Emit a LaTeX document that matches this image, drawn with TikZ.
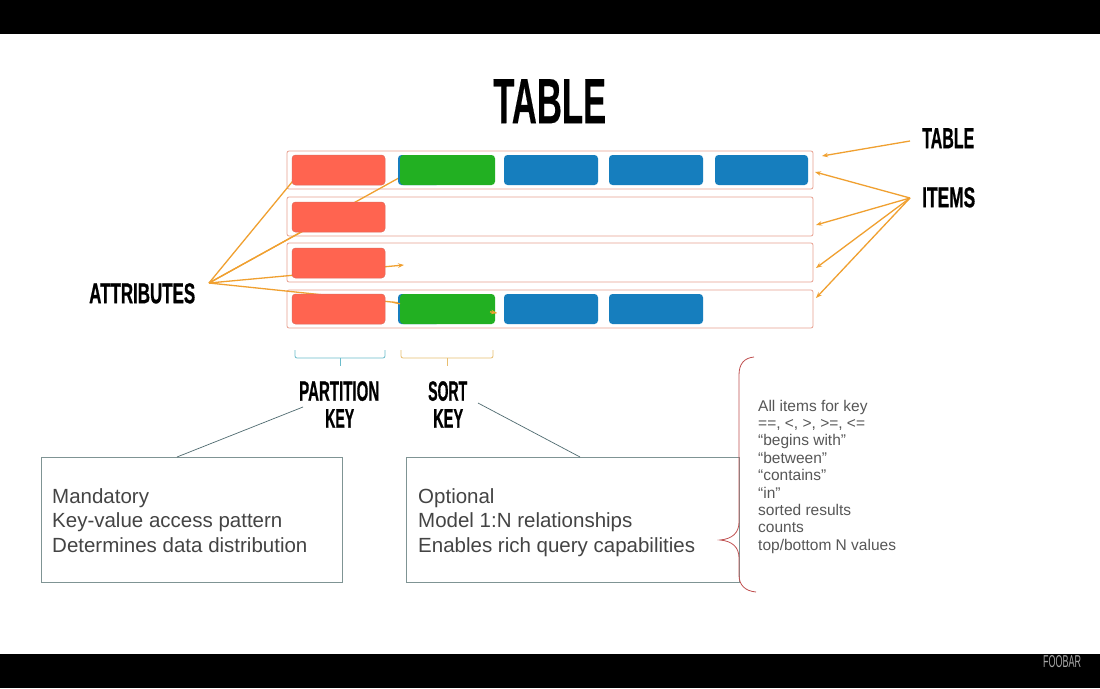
\documentclass[tikz,border=0pt]{standalone}
\usepackage{fontspec}
\usepackage{graphicx}
\setmainfont{Liberation Sans}
\newfontfamily\headfont[FakeBold=1.0]{Liberation Sans Bold}
\newfontfamily\titlefont[FakeBold=0.4]{Liberation Sans Bold}
\newfontfamily\thinfont{Liberation Sans}
\usetikzlibrary{arrows.meta}
\definecolor{cellred}{HTML}{FF6450}
\definecolor{cellgreen}{HTML}{22B022}
\definecolor{cellblue}{HTML}{167EBE}
\definecolor{rowc}{HTML}{E8A090}
\definecolor{arrowc}{HTML}{F0A030}
\definecolor{txt}{HTML}{444444}
\definecolor{boxc}{HTML}{7F9494}
\definecolor{conc}{HTML}{4F6B70}
\definecolor{pkc}{HTML}{6BBCCB}
\definecolor{skc}{HTML}{E8BE70}
\definecolor{bracec}{HTML}{C05050}
\newcommand\cond[3]{\resizebox{#1pt}{#2pt}{\headfont #3}}
\tikzset{
  rowbox/.style={draw=rowc, line width=0.8pt, rounded corners=2pt, inner sep=0pt, minimum width=526pt},
  cell/.style={rounded corners=3.5pt, inner sep=0pt, minimum height=30pt},
  redcell/.style={cell, fill=cellred, draw=cellred!75!gray, line width=0.5pt, minimum width=93pt},
  greencell/.style={cell, fill=cellgreen, minimum width=95pt},
  bluecell/.style={cell, fill=cellblue, minimum width=94pt},
  oarrow/.style={draw=arrowc, line width=1.3pt, -{Stealth[length=6pt,width=4.5pt]}},
  oline/.style={draw=arrowc, line width=1.3pt},
  lab/.style={inner sep=0pt, anchor=north west},
  infobox/.style={draw=boxc, line width=0.8pt, inner sep=0pt, anchor=north west},
  boxtext/.style={inner sep=0pt, anchor=base west, text=txt, font=\fontsize{20.5}{24.5}\selectfont},
  listtext/.style={inner sep=0pt, anchor=base west, text=txt!90!white, font=\fontsize{15.5}{17.4}\selectfont},
  con/.style={draw=conc, line width=0.7pt},
}
\begin{document}
\begin{tikzpicture}[x=1pt,y=-1pt]
\useasboundingbox (0,0) rectangle (1100,688);
\fill[white] (0,0) rectangle (1100,688);
\fill[black] (0,0) rectangle (1100,34);
\fill[black] (0,654) rectangle (1100,688);
\node[lab, text=gray!70!white] (foobar) at (1043,655) {\resizebox{38pt}{12pt}{\thinfont FOOBAR}};

% title
\node[lab] (title) at (493,79) {\resizebox{113pt}{44pt}{\titlefont TABLE}};

% row boxes
\node[rowbox, minimum height=38pt] (r1) at (550,170) {};
\node[rowbox, minimum height=39pt] (r2) at (550,216.5) {};
\node[rowbox, minimum height=39pt] (r3) at (550,262.5) {};
\node[rowbox, minimum height=38pt] (r4) at (550,309) {};

% labels
\node[lab] (ltable) at (922,128) {\cond{52}{20}{TABLE}};
\node[lab] (litems) at (922,187) {\cond{53}{20}{ITEMS}};
\node[lab] (lattr) at (89,283) {\cond{106}{20}{ATTRIBUTES}};
\node[lab] (lpart) at (299,381) {\cond{80}{19.5}{PARTITION}};
\node[lab] (lpkey) at (325,409) {\cond{29}{18.5}{KEY}};
\node[lab] (lsort) at (428,381) {\cond{39}{19.5}{SORT}};
\node[lab] (lskey) at (433,409) {\cond{30}{18.5}{KEY}};

% attribute connectors (behind cells)
\coordinate (att) at (209,283);
\coordinate (ta1) at (297,176);
\coordinate (ta2) at (406,174);
\coordinate (ta3) at (312,226);
\coordinate (ta4) at (404,265);
\coordinate (ta5) at (497,313);
\draw[oarrow] (att) -- (ta1);
\draw[oarrow] (att) -- (ta2);
\draw[oarrow] (att) -- (ta3);
\draw[oarrow] (att) -- (ta4);
\draw[oarrow] (att) -- (ta5);

% cells row 1
\node[redcell] (c11) at (338.5,170) {};
\node[bluecell, minimum width=42pt] (c12b) at (419,170) {};
\node[greencell] (c12) at (447.5,170) {};
\node[bluecell] (c13) at (551,170) {};
\node[bluecell] (c14) at (656,170) {};
\node[bluecell, minimum width=93pt] (c15) at (761.5,170) {};
% row 2, 3
\node[redcell] (c21) at (338.5,217) {};
\node[redcell] (c31) at (338.5,263) {};
% row 4
\node[redcell] (c41) at (338.5,309) {};
\node[bluecell, minimum width=42pt] (c42b) at (419,309) {};
\node[greencell] (c42) at (447.5,309) {};
\node[bluecell] (c43) at (551,309) {};
\node[bluecell] (c44) at (656,309) {};
% arrow parts visible again over cells
\draw[oline] (392.5,302.2) -- (400,303.8);
\draw[oarrow] (490,311.8) -- (ta5);

% table / items arrows
\coordinate (tt) at (910,141);
\coordinate (it) at (910,198);
\draw[oarrow] (tt) -- (822,156);
\draw[oarrow] (it) -- (815,172);
\draw[oarrow] (it) -- (816,225);
\draw[oarrow] (it) -- (816,268);
\draw[oarrow] (it) -- (816,298);

% braces under keys
\draw[pkc, line width=0.8pt, rounded corners=2pt] (295,350) -- (295,358) -- (385,358) -- (385,350);
\draw[pkc, line width=0.8pt] (340,358) -- (340,366);
\draw[skc, line width=0.8pt, rounded corners=2pt] (401,350) -- (401,358) -- (493,358) -- (493,350);
\draw[skc, line width=0.8pt] (447,358) -- (447,366);

% info boxes
\node[infobox, minimum width=301pt, minimum height=125pt] (lbox) at (41,457) {};
\node[infobox, minimum width=333pt, minimum height=125pt] (rbox) at (406,457) {};
\coordinate (pk) at (303,407);
\coordinate (pkb) at (177,457);
\coordinate (sk) at (478,403);
\coordinate (skb) at (580,457);
\draw[con] (pk) -- (pkb);
\draw[con] (sk) -- (skb);

\node[boxtext] (l1) at (52,503) {Mandatory};
\node[boxtext] (l2) at (52,527.5) {Key-value access pattern};
\node[boxtext] (l3) at (52,552) {Determines data distribution};
\node[boxtext] (r1t) at (418,503) {Optional};
\node[boxtext] (r2t) at (418,527.5) {Model 1:N relationships};
\node[boxtext] (r3t) at (418,552) {Enables rich query capabilities};

% big brace
\draw[bracec, line width=0.8pt] (754,357) .. controls (744,358) and (739,364) .. (739,375)
  -- (739,522) .. controls (739,533) and (732,539) .. (720,540)
  .. controls (732,541) and (739,547) .. (739,558)
  -- (739,575) .. controls (739,585) and (745,591) .. (756,592);

% query list
\foreach \t [count=\i from 0] in {All items for key, {==, <, >, >=, <=}, “begins with”, “between”, “contains”, “in”, sorted results, counts, top/bottom N values}
  \node[listtext] (q\i) at (758,411+17.4*\i) {\t};
\end{tikzpicture}
\end{document}
